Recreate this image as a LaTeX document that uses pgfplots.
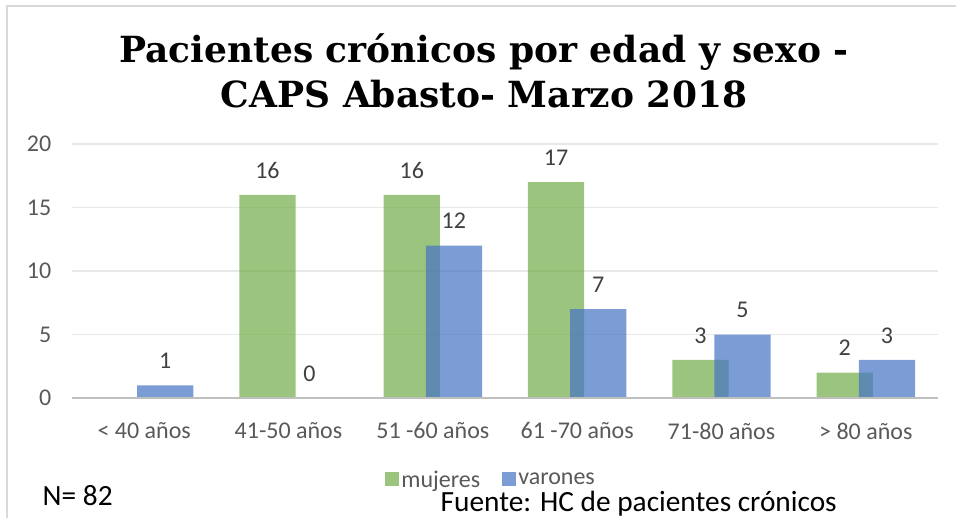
\documentclass[border=0pt]{standalone}
\usepackage{pgfplots}
\pgfplotsset{compat=1.18}
\usepackage{fontspec}
\setmainfont{Carlito}
\newfontfamily\titlefont{DejaVu Serif}
\definecolor{cgreen}{HTML}{70AD47}
\definecolor{cblue}{HTML}{4472C4}
\definecolor{tickc}{HTML}{595959}
\definecolor{labc}{HTML}{404040}
\definecolor{gridc}{HTML}{E8E8E8}
\definecolor{framec}{HTML}{D9D9D9}
\definecolor{axlinec}{HTML}{BFBFBF}
\begin{document}
\begin{tikzpicture}
\useasboundingbox (0,0) rectangle (717pt,388.5pt);
\draw[framec, line width=1.5pt] (5.25pt,0) -- (5.25pt,384pt) -- (717pt,384pt);
\node[align=center, font=\titlefont\bfseries\fontsize{27}{34}\selectfont] at (363pt,335.6pt)
  {Pacientes crónicos por edad y sexo -\\CAPS Abasto- Marzo 2018};
\begin{axis}[
  at={(54pt,90pt)}, anchor=south west,
  scale only axis, width=649.5pt, height=190.5pt,
  xmin=-0.5, xmax=5.5, ymin=0, ymax=20,
  ytick={0,5,10,15,20},
  xtick={0,1,2,3,4,5},
  xticklabels={< 40 años,41-50 años,51 -60 años,61 -70 años,71-80 años,> 80 años},
  axis line style={draw=none},
  major tick length=0pt,
  ymajorgrids, xmajorgrids=false,
  major grid style={draw=gridc, line width=1.1pt},
  /pgf/number format/assume math mode=true,
  ticklabel style={font=\fontsize{18}{20}\selectfont, text=tickc},
  yticklabel style={xshift=-12pt},
  xticklabel style={yshift=-15pt},
  clip=false,
  legend style={at={(0.484,-0.322)}, anchor=center, draw=none, fill=none,
    legend columns=2, font=\fontsize{18}{20}\selectfont, text=tickc,
    /tikz/every even column/.append style={column sep=14pt},
    inner sep=0pt},
  legend image code/.code={\fill[#1] (0pt,-4.5pt) rectangle (10.5pt,6pt);},
  nodes near coords,
  every node near coord/.append style={font=\fontsize{18}{20}\selectfont, text=labc, text opacity=1, anchor=base, yshift=12.5pt},
]
\addplot[ybar, bar width=0.39, bar shift=-0.146, fill=cgreen, fill opacity=0.7, draw=none,
  every node near coord/.append style={xshift=-15.8pt}]
  coordinates {(1,16) (2,16) (3,17) (4,3) (5,2)};
\addlegendentry{mujeres}
\addplot[ybar, bar width=0.39, bar shift=0.146, fill=cblue, fill opacity=0.7, draw=none,
  every node near coord/.append style={xshift=15.8pt}]
  coordinates {(0,1) (1,0) (2,12) (3,7) (4,5) (5,3)};
\addlegendentry{varones}
\draw[axlinec, line width=1.5pt] (axis cs:-0.5,0) -- (axis cs:5.5,0);
\end{axis}
\node[anchor=base west, font=\fontsize{22}{24}\selectfont] at (28.5pt,9.5pt) {N= 82};
\node[anchor=base west, font=\fontsize{22}{24}\selectfont] at (327pt,4.8pt) {Fuente: HC de pacientes crónicos};
\end{tikzpicture}
\end{document}
